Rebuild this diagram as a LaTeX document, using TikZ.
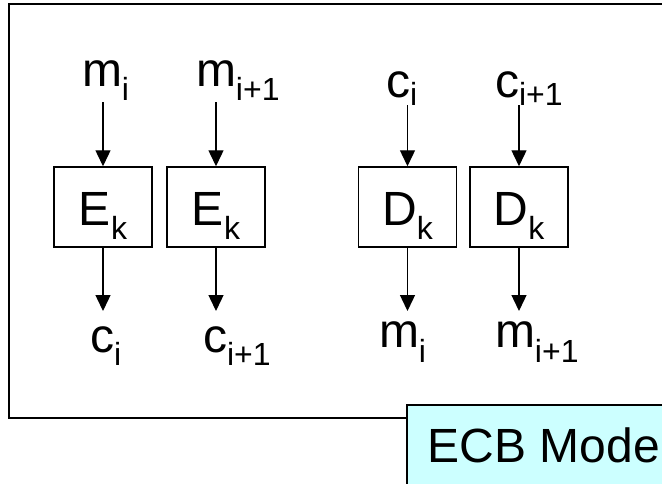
\documentclass[tikz,border=0pt]{standalone}
\usepackage{fontspec}
\setmainfont{Liberation Sans}
\usetikzlibrary{arrows.meta}
\newcommand{\mylab}[3]{#1\raisebox{-#3}{\fontsize{32}{32}\selectfont #2}}
\definecolor{ecbfill}{HTML}{CCFFFF}
\begin{document}
\begin{tikzpicture}[x=1pt,y=-1pt,
  every node/.style={font=\fontsize{48}{48}\selectfont},
  blk/.style={draw, line width=1.5pt, minimum width=98pt, minimum height=80pt, inner sep=0pt, text height=36pt, text depth=0pt},
  lbl/.style={anchor=base west, inner sep=0pt, outer sep=0pt},
  toplbl/.style={lbl, text depth=#1},
  botlbl/.style={lbl, text height=#1},
  ecb/.style={draw, fill=ecbfill, line width=1.5pt, anchor=north west, minimum width=274pt, minimum height=90pt, inner sep=0pt, text height=26pt, text depth=0pt},
  frame/.style={line width=1.8pt},
  arr/.style={-{Triangle[length=16pt,width=15pt]}, line width=1.4pt}]
\useasboundingbox (0,0) rectangle (662,483);
\clip (0,0) rectangle (662,483);
\fill[white] (0,0) rectangle (662,483);
\draw[frame] (9,4) rectangle (690,418);
\node[ecb] (ecb) at (406,404) {ECB Mode};
% boxes
\node[blk] (e1) at (103,207) {\mylab{E}{k}{14pt}};
\node[blk] (e2) at (216,207) {\mylab{E}{k}{14pt}};
\node[blk] (d1) at (407.5,207) {\mylab{D}{k}{14pt}};
\node[blk] (d2) at (519,207) {\mylab{D}{k}{14pt}};
% labels
\node[toplbl=16pt] (mi) at (82,86) {\mylab{m}{i}{14pt}};
\node[toplbl=16pt] (mj) at (196,86) {\mylab{m}{i+1}{14pt}};
\node[toplbl=8pt] (ci) at (386,97) {\mylab{c}{i}{8pt}};
\node[toplbl=8pt] (cj) at (495,97) {\mylab{c}{i+1}{8pt}};
\node[botlbl=41pt] (co) at (90,352) {\mylab{c}{i}{13pt}};
\node[botlbl=41pt] (cp) at (203,352) {\mylab{c}{i+1}{13pt}};
\node[botlbl=36pt] (mo) at (379,347) {\mylab{m}{i}{15pt}};
\node[botlbl=36pt] (mp) at (495,347) {\mylab{m}{i+1}{15pt}};
% arrows
\draw[arr] (e1.north |- mi.south) -- (e1.north);
\draw[arr] (e2.north |- mj.south) -- (e2.north);
\draw[arr] (d1.north |- ci.south) -- (d1.north);
\draw[arr] (d2.north |- cj.south) -- (d2.north);
\draw[arr] (e1.south) -- (e1.south |- co.north);
\draw[arr] (e2.south) -- (e2.south |- cp.north);
\draw[arr] (d1.south) -- (d1.south |- mo.north);
\draw[arr] (d2.south) -- (d2.south |- mp.north);
\end{tikzpicture}
\end{document}
